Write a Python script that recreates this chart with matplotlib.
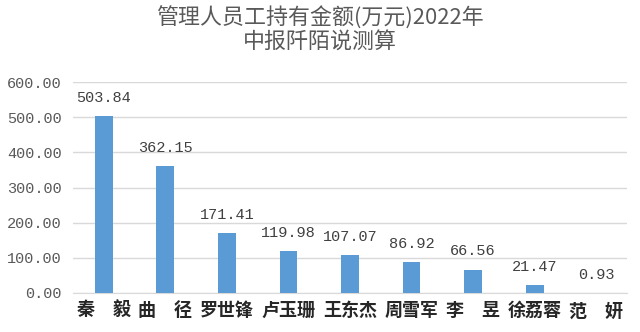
import matplotlib
matplotlib.use("Agg")
import matplotlib.pyplot as plt

plt.rcParams['font.family'] = ['Noto Sans CJK SC', 'DejaVu Sans']

names = ["秦　毅", "曲　径", "罗世锋", "卢玉珊", "王东杰", "周雪军", "李　昱", "徐荔蓉", "范　妍"]
values = [503.84, 362.15, 171.41, 119.98, 107.07, 86.92, 66.56, 21.47, 0.93]
yticks = [0, 100, 200, 300, 400, 500, 600]
title_lines = ["管理人员工持有金额(万元)2022年", "中报阡陌说测算"]

bar_color = "#5B9BD5"
text_color = "#595959"
grid_color = "#D9D9D9"
num_font = "Liberation Mono"

fig = plt.figure(figsize=(6.4, 3.32), dpi=100)
ax = fig.add_axes([73 / 640, 39 / 332, 554 / 640, 211 / 332])

x = list(range(len(names)))
ax.bar(x, values, width=0.29, color=bar_color, zorder=3)

for xi, v in zip(x, values):
    ax.annotate(f"{v:.2f}", (xi, v), xytext=(0, 8), textcoords="offset points",
                ha="center", va="bottom", fontsize=11, family=num_font,
                color="#404040")

ax.set_xlim(-0.5, len(names) - 0.5)
ax.set_ylim(0, 600)
ax.set_yticks(yticks)
ax.set_yticklabels([f"{t:.2f}" for t in yticks], family=num_font,
                   fontsize=11, color=text_color)
ax.set_xticks(x)
ax.set_xticklabels(names, fontsize=13, fontweight="bold", color="#262626")

ax.yaxis.grid(True, color=grid_color, linewidth=1, zorder=0)
ax.tick_params(axis="both", length=0)
ax.tick_params(axis="y", pad=8)
ax.tick_params(axis="x", pad=6)
for side in ("top", "right", "left"):
    ax.spines[side].set_visible(False)
ax.spines["bottom"].set_color(grid_color)

# two-line chart title
fig.text(0.5, 1 - 18 / 332, title_lines[0], ha="center", va="center",
         fontsize=15.8, color=text_color)
fig.text(0.5, 1 - 43 / 332, title_lines[1], ha="center", va="center",
         fontsize=15.8, color=text_color)

fig.savefig("out.png", dpi=100, facecolor="white")
